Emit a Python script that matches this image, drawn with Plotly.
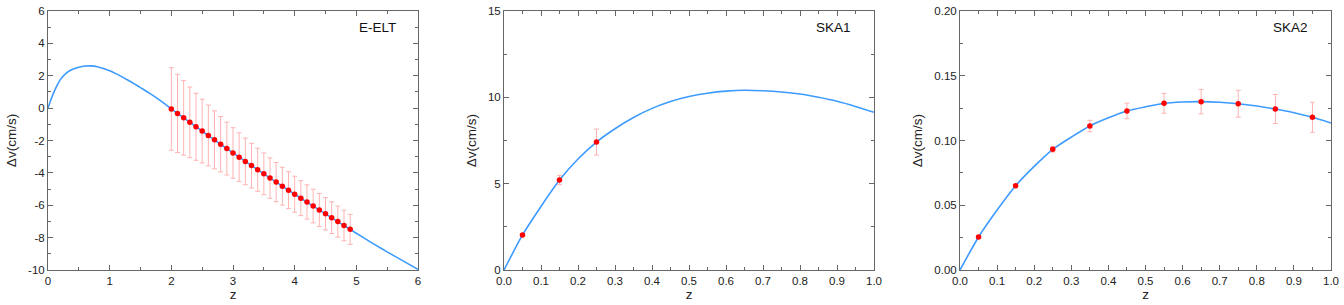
import plotly.graph_objects as go

# ---------------- data ----------------
# E-ELT panel
eelt_curve_z = [0.0, 0.05, 0.1, 0.15, 0.2, 0.3, 0.4, 0.5, 0.6, 0.7, 0.8, 0.9, 1.0, 1.1, 1.2, 1.3, 1.4,
                1.5, 1.6, 1.7, 1.8, 1.9, 2.0, 2.5, 3.0, 3.5, 4.0, 4.5, 5.0, 5.2, 5.4, 5.6, 5.8, 6.0]
eelt_curve_v = [0.0, 0.55, 1.02, 1.42, 1.76, 2.18, 2.40, 2.53, 2.60, 2.61, 2.56, 2.45, 2.31, 2.13, 1.93, 1.72, 1.50,
                1.27, 1.03, 0.79, 0.53, 0.25, -0.05, -1.42, -2.77, -4.06, -5.32, -6.53, -7.73, -8.2, -8.66, -9.1, -9.53, -9.96]
eelt_z = [2.0, 2.1, 2.2, 2.3, 2.4, 2.5, 2.6, 2.7, 2.8, 2.9, 3.0, 3.1, 3.2, 3.3, 3.4,
          3.5, 3.6, 3.7, 3.8, 3.9, 4.0, 4.1, 4.2, 4.3, 4.4, 4.5, 4.6, 4.7, 4.8, 4.9]
eelt_v = [-0.05, -0.33, -0.60, -0.88, -1.15, -1.42, -1.69, -1.96, -2.23, -2.50, -2.77, -3.03, -3.29, -3.55, -3.81,
          -4.06, -4.32, -4.57, -4.82, -5.07, -5.32, -5.56, -5.80, -6.05, -6.29, -6.53, -6.77, -7.01, -7.25, -7.49]
eelt_err = [2.55, 2.42, 2.30, 2.18, 2.07, 1.97, 1.88, 1.79, 1.71, 1.63, 1.56, 1.50, 1.44, 1.38, 1.33,
            1.29, 1.25, 1.21, 1.17, 1.14, 1.11, 1.08, 1.06, 1.04, 1.02, 1.00, 0.98, 0.96, 0.945, 0.93]

# SKA1 panel
ska1_curve_z = [0.0, 0.05, 0.1, 0.15, 0.2, 0.25, 0.3, 0.35, 0.4, 0.45, 0.5, 0.55, 0.6, 0.65, 0.7, 0.75, 0.8, 0.85, 0.9, 0.95, 1.0]
ska1_curve_v = [0.0, 2.03, 3.68, 5.21, 6.43, 7.41, 8.18, 8.83, 9.36, 9.76, 10.05, 10.24, 10.36, 10.41, 10.38,
                10.31, 10.19, 10.00, 9.77, 9.47, 9.13]
ska1_z = [0.05, 0.15, 0.25]
ska1_v = [2.03, 5.21, 7.41]
ska1_err = [0.08, 0.27, 0.75]

# SKA2 panel
ska2_curve_z = [0.0, 0.05, 0.1, 0.15, 0.2, 0.25, 0.3, 0.35, 0.4, 0.45, 0.5, 0.55, 0.6, 0.65, 0.7, 0.75, 0.8, 0.85, 0.9, 0.95, 1.0]
ska2_curve_v = [0.0, 0.0255, 0.0463, 0.0651, 0.0800, 0.0932, 0.1026, 0.1112, 0.1175, 0.1228, 0.1260, 0.1287,
                0.1297, 0.1300, 0.1295, 0.1284, 0.1266, 0.1243, 0.1215, 0.1179, 0.1135]
ska2_z = [0.05, 0.15, 0.25, 0.35, 0.45, 0.55, 0.65, 0.75, 0.85, 0.95]
ska2_v = [0.0255, 0.0651, 0.0932, 0.1112, 0.1228, 0.1287, 0.1300, 0.1284, 0.1243, 0.1179]
ska2_err = [0.0006, 0.0008, 0.0022, 0.0044, 0.0060, 0.0077, 0.0094, 0.0104, 0.0112, 0.0116]

eelt_ytickvals = [-10, -8, -6, -4, -2, 0, 2, 4, 6]
eelt_yticktext = ["-10", "-8", "-6", "-4", "-2", "0", "2", "4", "6"]

labels = ["E-ELT", "SKA1", "SKA2"]

# ---------------- figure ----------------
W, H = 1344, 305
CURVE = "#3d9bff"
PT = "#ff0000"
ERR = "#ffb3b3"
FRAME = "#666666"
FONT = "Liberation Sans, Arial, sans-serif"

fig = go.Figure()

panels = [
    (eelt_curve_z, eelt_curve_v, eelt_z, eelt_v, eelt_err),
    (ska1_curve_z, ska1_curve_v, ska1_z, ska1_v, ska1_err),
    (ska2_curve_z, ska2_curve_v, ska2_z, ska2_v, ska2_err),
]
for i, (cz, cv, pz, pv, pe) in enumerate(panels):
    xa = "x" if i == 0 else f"x{i+1}"
    ya = "y" if i == 0 else f"y{i+1}"
    fig.add_trace(go.Scatter(x=cz, y=cv, mode="lines", line=dict(color=CURVE, width=1.6, shape="spline", smoothing=0.6),
                             xaxis=xa, yaxis=ya, showlegend=False, hoverinfo="skip"))
    fig.add_trace(go.Scatter(x=pz, y=pv, mode="markers",
                             marker=dict(color=PT, size=5.5, line=dict(width=0)),
                             error_y=dict(type="data", array=pe, visible=True, color=ERR, thickness=1, width=2.5),
                             xaxis=xa, yaxis=ya, showlegend=False))

# pixel layout of plot areas
px_x = [(48, 418), (504, 874), (960, 1331)]
top_px, bot_px = 11, 270

common_axis = dict(
    showline=True, linecolor=FRAME, linewidth=1, mirror="allticks",
    ticks="inside", ticklen=5, tickcolor=FRAME, tickwidth=1,
    showgrid=False, zeroline=False, automargin=False,
    tickfont=dict(family=FONT, size=11.5, color="#222222"),
)

x_specs = [
    dict(range=[0, 6], dtick=1, tick0=0, minor=dict(dtick=0.5, ticks="inside", ticklen=3, tickcolor=FRAME)),
    dict(range=[0, 1], dtick=0.1, tick0=0, tickformat=".1f", minor=dict(dtick=0.05, ticks="inside", ticklen=3, tickcolor=FRAME)),
    dict(range=[0, 1], dtick=0.1, tick0=0, tickformat=".1f", minor=dict(dtick=0.05, ticks="inside", ticklen=3, tickcolor=FRAME)),
]
y_specs = [
    dict(range=[-10, 6], tickmode="array", tickvals=eelt_ytickvals, ticktext=eelt_yticktext,
         minor=dict(dtick=1, ticks="inside", ticklen=3, tickcolor=FRAME)),
    dict(range=[0, 15], dtick=5, tick0=0, minor=dict(dtick=2.5, ticks="inside", ticklen=3, tickcolor=FRAME)),
    dict(range=[0, 0.2], dtick=0.05, tick0=0, tickformat=".2f", minor=dict(dtick=0.025, ticks="inside", ticklen=3, tickcolor=FRAME)),
]

ml, mr, mt, mb = 0, 0, top_px, H - bot_px
plot_w = W - ml - mr
for i in range(3):
    xk = "xaxis" if i == 0 else f"xaxis{i+1}"
    yk = "yaxis" if i == 0 else f"yaxis{i+1}"
    xa = "x" if i == 0 else f"x{i+1}"
    ya = "y" if i == 0 else f"y{i+1}"
    d0 = px_x[i][0] / plot_w
    d1 = px_x[i][1] / plot_w
    fig.layout[xk] = dict(common_axis, domain=[d0, d1], anchor=ya,
                          title=dict(text="z", font=dict(family=FONT, size=13.5, color="#222222"), standoff=0),
                          **x_specs[i])
    fig.layout[yk] = dict(common_axis, domain=[0, 1], anchor=xa,
                          title=dict(text="Δv(cm/s)", font=dict(family=FONT, size=13.5, color="#222222"), standoff=8),
                          **y_specs[i])
    fig.add_annotation(text=labels[i], xref=f"{xa} domain", yref=f"{ya} domain",
                       x=0.89, y=0.935, showarrow=False, xanchor="center", yanchor="middle",
                       font=dict(family=FONT, size=13.5, color="#111111"))

fig.update_layout(
    width=W, height=H,
    margin=dict(l=ml, r=mr, t=mt, b=mb),
    paper_bgcolor="white", plot_bgcolor="white",
    font=dict(family=FONT),
)

fig.write_html("out.html")
